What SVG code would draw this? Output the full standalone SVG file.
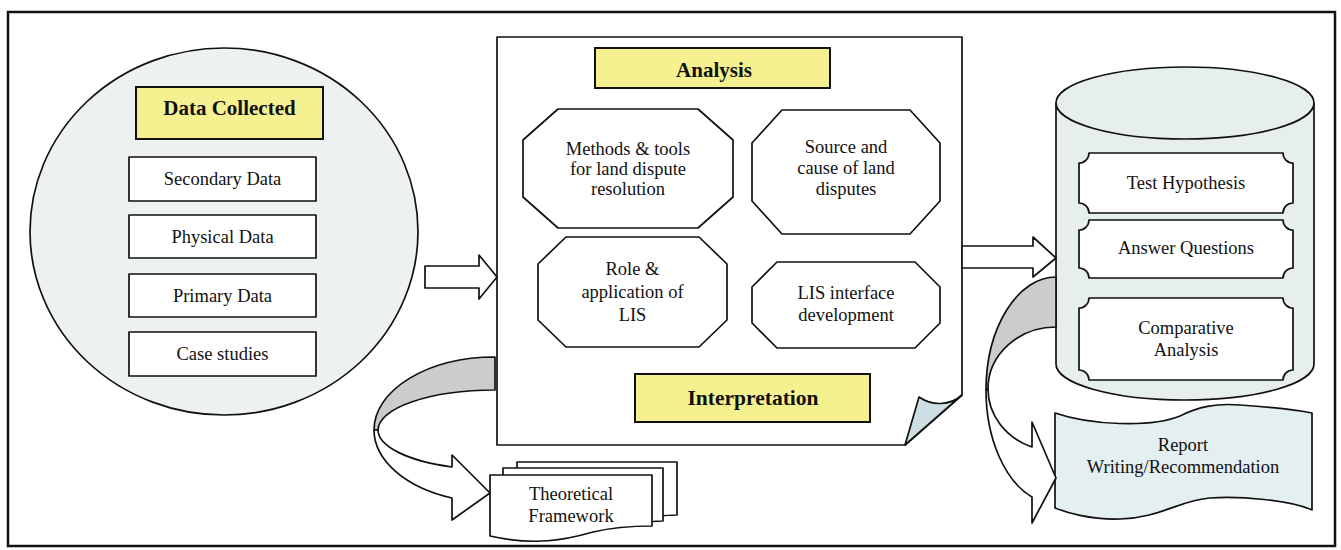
<svg xmlns="http://www.w3.org/2000/svg" width="1341" height="550" viewBox="0 0 1341 550">
<defs>
<style>
.ln{stroke:#111;stroke-width:1.7;fill:#fff;stroke-linejoin:round}
.yl{fill:#f5f190;stroke:#111;stroke-width:2}
.t{font-family:"Liberation Serif","Times New Roman",serif;font-size:18.5px;fill:#111;text-anchor:middle}
.tb{font-family:"Liberation Serif","Times New Roman",serif;font-size:21px;font-weight:bold;fill:#111;text-anchor:middle}
.gray{fill:#cccccc;stroke:#111;stroke-width:1.7;stroke-linejoin:round}
</style>
</defs>
<rect x="0" y="0" width="1341" height="550" fill="#fff"/>
<rect x="8" y="12" width="1327" height="534" fill="none" stroke="#111" stroke-width="2.5"/>

<g id="data-collected">
<ellipse cx="224" cy="231.5" rx="194" ry="183.5" fill="#eef1f1" stroke="#111" stroke-width="1.7"/>
<rect class="yl" x="136" y="87" width="187" height="52"/>
<text class="tb" x="229.5" y="115">Data Collected</text>
<rect class="ln" x="129" y="157" width="187" height="44"/>
<text class="t" x="222.5" y="185">Secondary Data</text>
<rect class="ln" x="129" y="215" width="187" height="43"/>
<text class="t" x="222.5" y="243">Physical Data</text>
<rect class="ln" x="129" y="274" width="187" height="43"/>
<text class="t" x="222.5" y="302">Primary Data</text>
<rect class="ln" x="129" y="332" width="187" height="44"/>
<text class="t" x="222.5" y="360">Case studies</text>
</g>

<g id="analysis">
<path class="ln" d="M497,37 H962 V395 L905,445 H497 Z"/>
<path d="M905,445 L919,397 C932,406 950,406 962,395 Z" fill="#cddfe3" stroke="#111" stroke-width="1.7" stroke-linejoin="round"/>
<rect class="yl" x="595" y="48" width="235" height="40"/>
<text class="tb" x="714" y="77">Analysis</text>
<rect class="yl" x="635" y="374" width="235" height="48"/>
<text class="tb" x="753" y="405" style="font-size:21.5px">Interpretation</text>
</g>

<g id="methods">
<polygon class="ln" points="558,109 698,109 733,140 733,197 698,228 558,228 523,197 523,140"/>
<text class="t" x="628" y="155">Methods &amp; tools</text>
<text class="t" x="628" y="175">for land dispute</text>
<text class="t" x="628" y="195">resolution</text>
</g>

<g id="source">
<polygon class="ln" points="782,110 910,110 940,143 940,201 910,234 782,234 752,201 752,143"/>
<text class="t" x="846" y="153">Source and</text>
<text class="t" x="846" y="174">cause of land</text>
<text class="t" x="846" y="195">disputes</text>
</g>

<g id="role">
<polygon class="ln" points="566,237 699,237 727,264 727,320 699,347 566,347 538,320 538,264"/>
<text class="t" x="632.5" y="275">Role &amp;</text>
<text class="t" x="632.5" y="298">application of</text>
<text class="t" x="632.5" y="321">LIS</text>
</g>

<g id="lis-interface">
<polygon class="ln" points="777,262 915,262 940,287 940,323 915,348 777,348 752,323 752,287"/>
<text class="t" x="846" y="299">LIS interface</text>
<text class="t" x="846" y="321">development</text>
</g>

<g id="results">
<path d="M1056,103 V364 A129,36 0 0 0 1314,364 V103" fill="#e6efee" stroke="#111" stroke-width="1.7"/>
<ellipse cx="1185" cy="103" rx="129" ry="36" fill="#e6efee" stroke="#111" stroke-width="1.7"/>
<path class="ln" d="M1089,153 H1283 A10,10 0 0 0 1293,163 V203 A10,10 0 0 0 1283,213 H1089 A10,10 0 0 0 1079,203 V163 A10,10 0 0 0 1089,153 Z"/>
<text class="t" x="1186" y="189">Test Hypothesis</text>
<path class="ln" d="M1089,220 H1283 A10,10 0 0 0 1293,230 V268 A10,10 0 0 0 1283,278 H1089 A10,10 0 0 0 1079,268 V230 A10,10 0 0 0 1089,220 Z"/>
<text class="t" x="1186" y="254">Answer Questions</text>
<path class="ln" d="M1089,298 H1283 A10,10 0 0 0 1293,308 V370 A10,10 0 0 0 1283,380 H1089 A10,10 0 0 0 1079,370 V308 A10,10 0 0 0 1089,298 Z"/>
<text class="t" x="1186" y="334">Comparative</text>
<text class="t" x="1186" y="356">Analysis</text>
</g>

<g id="report">
<path d="M1055,413 C1090,425 1150,428 1180,416 C1198,407 1215,403 1240,405 C1270,407 1298,410 1312,413 V510 C1290,500 1240,496 1210,498 C1180,500 1160,518 1120,519 C1090,520 1065,512 1055,508 Z" fill="#e3eff1" stroke="#111" stroke-width="1.7" stroke-linejoin="round"/>
<text class="t" x="1183" y="451">Report</text>
<text class="t" x="1183" y="473">Writing/Recommendation</text>
</g>

<g id="theoretical">
<path class="ln" d="M517,462 H677 V515 C660,515 645,518 630,521 L517,521 Z"/>
<path class="ln" d="M503,468 H663 V521 C645,521 630,524 612,528 L503,528 Z"/>
<path class="ln" d="M490,475 H652 V526 C625,526 610,528 593,532 C565,540 535,546 490,536 Z"/>
<text class="t" x="571" y="500">Theoretical</text>
<text class="t" x="571" y="522">Framework</text>
</g>

<g id="connectors">
<path class="ln" d="M425,266 H479 V255 L497,277 L479,299 V288 H425 Z"/>
<path class="ln" d="M962,246 H1033 V237 L1056,258 L1033,277 V268 H962 Z"/>
<path class="gray" d="M495,357 A121,73 0 0 0 374,430 L378,430 A117,40 0 0 1 495,390 Z"/>
<path class="ln" d="M378,430 A117,40 0 0 0 452,467 L452,455 L490,493 L452,520 L452,498 A121,73 0 0 1 374,430 Z"/>
<path class="gray" d="M1056,277 A70,113.5 0 0 0 986,390.5 L988,389 A68,62 0 0 1 1056,327 Z"/>
<path class="ln" d="M988,389 A68,62 0 0 0 1032,447 L1032,422 L1056,478 L1032,523 L1032,497 A70,113.5 0 0 1 986,390.5 Z"/>
</g>
</svg>
